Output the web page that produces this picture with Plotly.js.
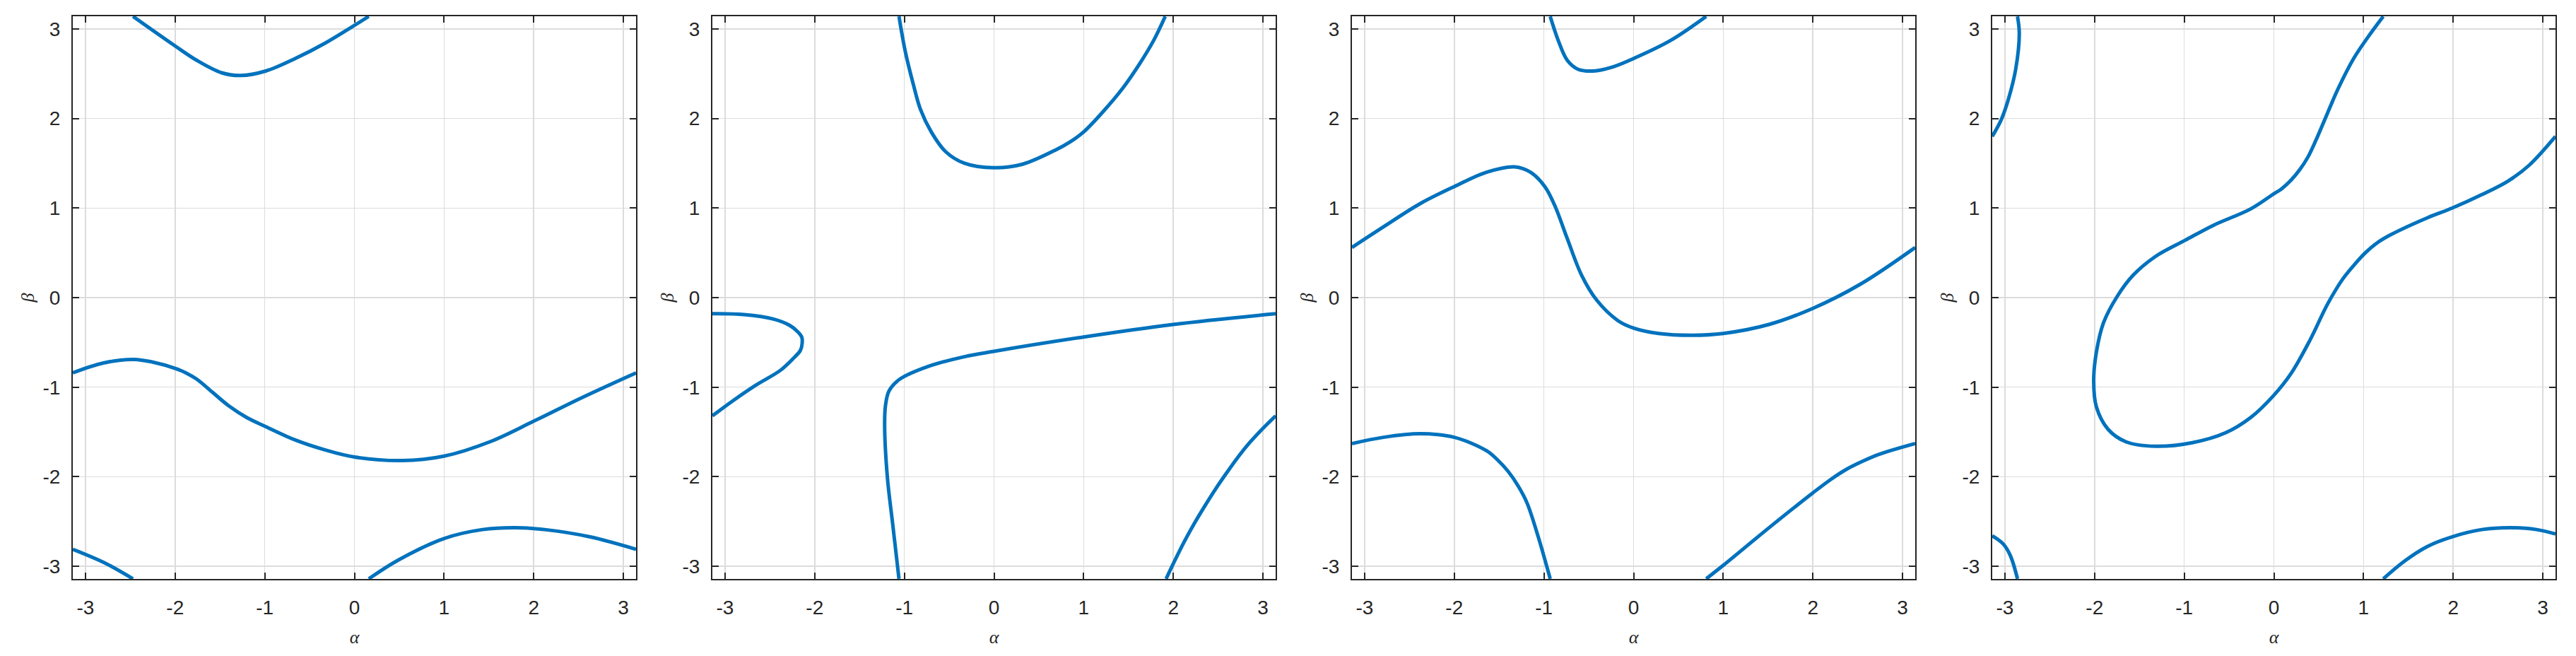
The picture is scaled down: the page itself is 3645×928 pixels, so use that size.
<!DOCTYPE html>
<html>
<head>
<meta charset="utf-8">
<script src="https://cdn.plot.ly/plotly-3.0.1.min.js"></script>
<style>html,body{margin:0;padding:0;background:#fff;}#chart{width:3645px;height:928px;}</style>
</head>
<body>
<div id="chart"></div>
<script>
// ---- Panel 1 ----
const p1_top_a = [-2.47, -2.0, -1.76, -1.48, -1.27, -0.99, -0.66, -0.33, 0.0, 0.16];
const p1_top_b = [3.14, 2.81, 2.65, 2.51, 2.48, 2.53, 2.67, 2.84, 3.04, 3.14];
const p1_mid_a = [-3.1416, -2.80, -2.46, -2.25, -2.0, -1.88, -1.76, -1.58, -1.40, -1.20, -0.99, -0.66, -0.33, 0.0, 0.53, 1.0, 1.51, 2.0, 2.53, 3.1416];
const p1_mid_b = [-0.84, -0.73, -0.69, -0.72, -0.79, -0.84, -0.91, -1.06, -1.21, -1.34, -1.44, -1.59, -1.70, -1.78, -1.82, -1.77, -1.61, -1.38, -1.12, -0.84];
const p1_bl_a = [-3.1416, -2.79, -2.47];
const p1_bl_b = [-2.81, -2.96, -3.14];
const p1_br_a = [0.16, 0.49, 1.0, 1.43, 1.80, 2.12, 2.62, 3.1416];
const p1_br_b = [-3.14, -2.93, -2.69, -2.59, -2.57, -2.59, -2.67, -2.81];

// ---- Panel 2 ----
const p2_top_a = [-1.06, -0.99, -0.90, -0.82, -0.70, -0.54, -0.33, 0.0, 0.32, 0.69, 0.85, 1.0, 1.22, 1.43, 1.63, 1.78, 1.91];
const p2_top_b = [3.14, 2.75, 2.38, 2.10, 1.85, 1.63, 1.50, 1.45, 1.49, 1.65, 1.74, 1.85, 2.08, 2.33, 2.62, 2.87, 3.14];
const p2_loop_a = [-3.1416, -2.79, -2.46, -2.28, -2.19, -2.145, -2.14, -2.16, -2.23, -2.38, -2.66, -2.91, -3.1416];
const p2_loop_b = [-0.18, -0.19, -0.24, -0.31, -0.38, -0.44, -0.51, -0.59, -0.67, -0.81, -0.98, -1.15, -1.32];
const p2_cross_a = [-1.06, -1.13, -1.19, -1.22, -1.21, -1.17, -1.05, -0.74, -0.33, 0.0, 1.0, 2.0, 3.1416];
const p2_cross_b = [-3.14, -2.53, -2.0, -1.42, -1.20, -1.04, -0.91, -0.77, -0.66, -0.60, -0.44, -0.30, -0.18];
const p2_br_a = [1.92, 2.02, 2.12, 2.23, 2.35, 2.47, 2.60, 2.73, 2.86, 3.00, 3.1416];
const p2_br_b = [-3.14, -2.93, -2.73, -2.53, -2.33, -2.14, -1.95, -1.77, -1.61, -1.46, -1.32];

// ---- Panel 3 ----
const p3_top_a = [-0.93, -0.84, -0.74, -0.62, -0.45, -0.25, 0.0, 0.41, 0.81];
const p3_top_b = [3.14, 2.87, 2.65, 2.55, 2.53, 2.57, 2.67, 2.87, 3.14];
const p3_mid_a = [-3.1416, -2.79, -2.38, -2.0, -1.64, -1.33, -1.15, -0.99, -0.88, -0.74, -0.58, -0.41, -0.17, 0.0, 0.28, 0.65, 1.0, 1.51, 2.0, 2.53, 3.1416];
const p3_mid_b = [0.56, 0.79, 1.05, 1.24, 1.40, 1.46, 1.40, 1.24, 1.03, 0.66, 0.25, -0.03, -0.26, -0.34, -0.40, -0.42, -0.40, -0.30, -0.12, 0.15, 0.56];
const p3_bl_a = [-3.1416, -2.79, -2.38, -2.0, -1.64, -1.52, -1.40, -1.29, -1.19, -1.07, -0.93];
const p3_bl_b = [-1.63, -1.56, -1.52, -1.56, -1.71, -1.81, -1.94, -2.10, -2.29, -2.65, -3.14];
const p3_br_a = [0.81, 1.0, 1.51, 2.0, 2.20, 2.37, 2.55, 2.74, 3.1416];
const p3_br_b = [-3.14, -2.99, -2.57, -2.18, -2.03, -1.92, -1.83, -1.75, -1.63];

// ---- Panel 4 ----
const p4_tl_a = [-2.86, -2.84, -2.88, -2.96, -3.04, -3.1416];
const p4_tl_b = [3.14, 2.95, 2.55, 2.22, 1.99, 1.80];
const p4_bl_a = [-3.1416, -3.02, -2.94, -2.86];
const p4_bl_b = [-2.66, -2.75, -2.88, -3.14];
const p4_main_a = [1.22, 1.05, 0.89, 0.72, 0.56, 0.47, 0.38, 0.29, 0.19, 0.08, 0.0, -0.26, -0.67, -0.99, -1.32, -1.57, -1.75, -1.90, -1.98, -2.01, -1.98, -1.85, -1.65, -1.32, -0.91, -0.54, -0.26, 0.0, 0.19, 0.40, 0.60, 0.77, 0.90, 1.02, 1.15, 1.30, 1.71, 1.99, 2.32, 2.61, 2.85, 3.1416];
const p4_main_b = [3.14, 2.91, 2.67, 2.34, 1.97, 1.76, 1.57, 1.43, 1.31, 1.21, 1.16, 0.99, 0.81, 0.64, 0.46, 0.25, 0.01, -0.28, -0.61, -0.93, -1.22, -1.47, -1.61, -1.66, -1.62, -1.51, -1.34, -1.09, -0.85, -0.48, -0.07, 0.21, 0.37, 0.50, 0.61, 0.70, 0.89, 1.00, 1.15, 1.30, 1.48, 1.80];
const p4_br_a = [1.22, 1.46, 1.71, 1.99, 2.32, 2.65, 2.93, 3.1416];
const p4_br_b = [-3.14, -2.94, -2.78, -2.67, -2.59, -2.57, -2.59, -2.64];

const tickVals = [-3, -2, -1, 0, 1, 2, 3];
const tickText = ['-3', '-2', '-1', '0', '1', '2', '3'];
const xLabel = 'α';
const yLabel = 'β';

const panels = [
  [[p1_top_a, p1_top_b], [p1_mid_a, p1_mid_b], [p1_bl_a, p1_bl_b], [p1_br_a, p1_br_b]],
  [[p2_top_a, p2_top_b], [p2_loop_a, p2_loop_b], [p2_cross_a, p2_cross_b], [p2_br_a, p2_br_b]],
  [[p3_top_a, p3_top_b], [p3_mid_a, p3_mid_b], [p3_bl_a, p3_bl_b], [p3_br_a, p3_br_b]],
  [[p4_tl_a, p4_tl_b], [p4_bl_a, p4_bl_b], [p4_main_a, p4_main_b], [p4_br_a, p4_br_b]]
];

const W = 3645, H = 928;
const panelLefts = [103, 1008, 1913, 2819];
const panelW = 797;
const panelTop = 23, panelBottom = 819;

const traces = [];
const layout = {
  width: W, height: H,
  margin: {l: 0, r: 0, t: 0, b: 0},
  paper_bgcolor: '#ffffff',
  plot_bgcolor: '#ffffff',
  showlegend: false,
  font: {family: 'Liberation Sans, Arial, sans-serif', color: '#262626', size: 28}
};

const PI = Math.PI;
panels.forEach((segs, i) => {
  const n = i + 1;
  const xa = n === 1 ? 'x' : 'x' + n;
  const ya = n === 1 ? 'y' : 'y' + n;
  segs.forEach(s => {
    traces.push({
      type: 'scatter', mode: 'lines', x: s[0], y: s[1],
      xaxis: xa, yaxis: ya,
      line: {color: '#0072BD', width: 5, shape: 'spline', smoothing: 1},
      hoverinfo: 'skip'
    });
  });
  const common = {
    range: [-PI, PI], tickvals: tickVals, ticktext: tickText,
    ticks: 'inside', ticklen: 9, tickwidth: 2, tickcolor: '#262626',
    showline: true, linecolor: '#262626', linewidth: 2, mirror: 'ticks',
    showgrid: true, gridcolor: '#dcdcdc', gridwidth: 1.5,
    zeroline: false, automargin: false, fixedrange: true,
    tickfont: {family: 'Liberation Sans, Arial, sans-serif', size: 28, color: '#262626'}
  };
  layout['xaxis' + (n === 1 ? '' : n)] = Object.assign({}, common, {
    domain: [panelLefts[i] / W, (panelLefts[i] + panelW) / W],
    anchor: ya,
    ticklabelstandoff: 14,
    title: {text: xLabel, standoff: 18, font: {family: 'Liberation Serif, Times New Roman, serif', size: 26, color: '#262626', style: 'italic'}}
  });
  layout['yaxis' + (n === 1 ? '' : n)] = Object.assign({}, common, {
    domain: [(H - panelBottom) / H, (H - panelTop) / H],
    anchor: xa,
    ticklabelstandoff: 10,
    title: {text: yLabel, standoff: 4, font: {family: 'Liberation Serif, Times New Roman, serif', size: 26, color: '#262626', style: 'italic'}}
  });
});

Plotly.newPlot('chart', traces, layout, {displayModeBar: false, staticPlot: true});
</script>
</body>
</html>
